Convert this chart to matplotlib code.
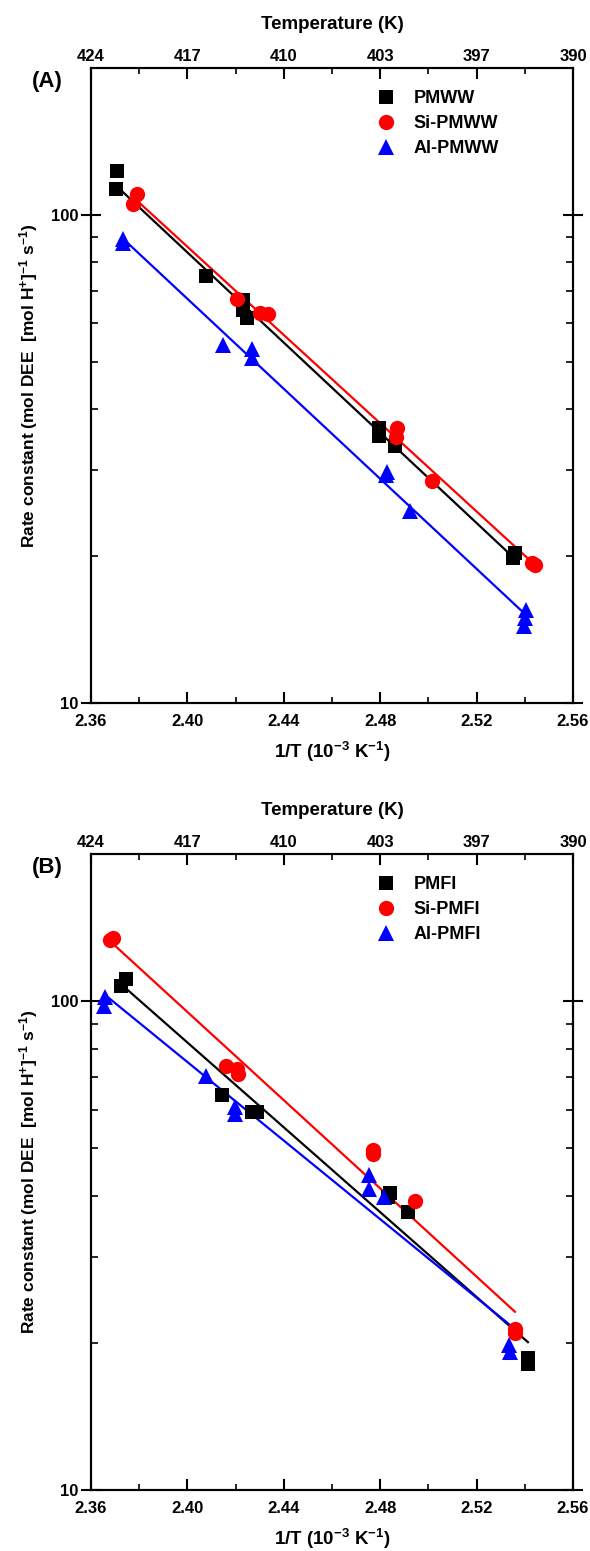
import numpy as np
import matplotlib
matplotlib.use("Agg")
import matplotlib.pyplot as plt
from matplotlib.ticker import FixedLocator, NullFormatter, LogLocator

plt.rcParams['font.family'] = ['Liberation Sans', 'DejaVu Sans']
plt.rcParams['font.weight'] = 'bold'
plt.rcParams['mathtext.fontset'] = 'custom'
plt.rcParams['mathtext.rm'] = 'Liberation Sans:bold'
plt.rcParams['mathtext.it'] = 'Liberation Sans:bold'
plt.rcParams['mathtext.bf'] = 'Liberation Sans:bold'
plt.rcParams['mathtext.default'] = 'rm'

# ---------------- data: panel A ----------------
pmww_x = [2.3707, 2.3704, 2.4077, 2.4231, 2.4229, 2.4246, 2.4795, 2.4795, 2.4861, 2.5359, 2.5351]
pmww_k = [123.3, 112.9, 75.1, 66.9, 63.9, 61.5, 36.6, 35.3, 33.6, 20.3, 19.8]
sipmww_x = [2.3790, 2.3776, 2.4205, 2.4301, 2.4336, 2.4868, 2.4866, 2.5016, 2.5442, 2.5429]
sipmww_k = [110.3, 105.2, 67.2, 62.9, 62.7, 36.6, 35.1, 28.5, 19.2, 19.4]
alpmww_x = [2.3734, 2.3732, 2.4149, 2.4269, 2.4267, 2.4829, 2.4824, 2.4924, 2.5405, 2.5400, 2.5397]
alpmww_k = [89.3, 87.5, 54.2, 53.1, 50.9, 29.8, 29.3, 24.7, 15.5, 14.9, 14.4]

# ---------------- data: panel B ----------------
pmfi_x = [2.3724, 2.3745, 2.4144, 2.4268, 2.4289, 2.4841, 2.4832, 2.4915, 2.5413, 2.5413]
pmfi_k = [107.3, 110.9, 64.2, 59.2, 59.2, 40.6, 39.7, 37.1, 18.6, 18.1]
sipmfi_x = [2.3679, 2.3690, 2.4160, 2.4206, 2.4210, 2.4770, 2.4770, 2.4944, 2.5359, 2.5359]
sipmfi_k = [133.5, 134.5, 73.6, 72.6, 70.9, 49.7, 48.6, 39.1, 21.3, 20.9]
alpmfi_x = [2.3658, 2.3654, 2.4077, 2.4198, 2.4198, 2.4754, 2.4754, 2.4816, 2.5334, 2.5339]
alpmfi_k = [101.9, 97.8, 70.2, 60.6, 58.7, 44.0, 41.2, 39.7, 19.8, 19.2]

# ---------------- ticks ----------------
invT_ticks = [2.36, 2.40, 2.44, 2.48, 2.52, 2.56]
invT_labels = ['2.36', '2.40', '2.44', '2.48', '2.52', '2.56']
temp_labels = ['424', '417', '410', '403', '397', '390']
k_ticks = [10, 100]
k_labels = ['10', '100']

panels = [
    ('(A)', [('PMWW', pmww_x, pmww_k, 's', 'black'),
             ('Si-PMWW', sipmww_x, sipmww_k, 'o', 'red'),
             ('Al-PMWW', alpmww_x, alpmww_k, '^', 'blue')]),
    ('(B)', [('PMFI', pmfi_x, pmfi_k, 's', 'black'),
             ('Si-PMFI', sipmfi_x, sipmfi_k, 'o', 'red'),
             ('Al-PMFI', alpmfi_x, alpmfi_k, '^', 'blue')]),
]

W, H = 590, 1551
fig = plt.figure(figsize=(W / 100, H / 100), dpi=100)

axes_px = [(91, 68, 573, 703), (91, 854, 573, 1490)]
msize = {'s': 10, 'o': 11, '^': 11}

for (label, series), (x0, y0, x1, y1) in zip(panels, axes_px):
    ax = fig.add_axes([x0 / W, 1 - y1 / H, (x1 - x0) / W, (y1 - y0) / H])
    handles = []
    for name, xs, ks, m, c in series:
        xs = np.array(xs); ks = np.array(ks)
        h, = ax.plot(xs, ks, linestyle='none', marker=m, color=c,
                     markersize=msize[m], markeredgewidth=0, label=name)
        handles.append(h)
        p = np.polyfit(xs, np.log10(ks), 1)
        xx = np.array([xs.min(), xs.max()])
        ax.plot(xx, 10 ** np.polyval(p, xx), color=c, lw=1.6, zorder=1)
    ax.set_yscale('log')
    ax.set_xlim(2.36, 2.56)
    ax.set_ylim(10, 200)
    ax.set_xticks(invT_ticks)
    ax.set_xticklabels(invT_labels)
    ax.xaxis.set_minor_locator(FixedLocator([2.38, 2.42, 2.46, 2.50, 2.54]))
    ax.set_yticks(k_ticks)
    ax.set_yticklabels(k_labels)
    ax.yaxis.set_minor_locator(LogLocator(base=10, subs=np.arange(2, 10)))
    ax.yaxis.set_minor_formatter(NullFormatter())
    for s in ax.spines.values():
        s.set_linewidth(1.5)
    ax.tick_params(axis='x', which='major', direction='in', length=8, width=1.5,
                   labelsize=12, pad=8, top=False)
    ax.tick_params(axis='x', which='minor', direction='in', length=4, width=1.2, top=False)
    ax.tick_params(axis='y', which='major', direction='inout', length=14, width=1.5,
                   labelsize=12, pad=2, right=True)
    ax.tick_params(axis='y', which='minor', direction='in', length=5, width=1.2, right=True)
    for t in ax.get_xticklabels() + ax.get_yticklabels():
        t.set_fontweight('bold')
    ax.set_xlabel('1/T (10$^{-3}$ K$^{-1}$)', fontsize=13.5, fontweight='bold', labelpad=8)
    ax.set_ylabel('Rate constant (mol DEE  [mol H$^{+}$]$^{-1}$ s$^{-1}$)',
                  fontsize=12.5, fontweight='bold', labelpad=8)

    top = ax.twiny()
    top.set_xlim(ax.get_xlim())
    top.set_xticks(invT_ticks)
    top.set_xticklabels(temp_labels)
    top.xaxis.set_minor_locator(FixedLocator([2.38, 2.42, 2.46, 2.50, 2.54]))
    top.tick_params(axis='x', which='major', direction='in', length=8, width=1.5,
                    labelsize=12, pad=3)
    top.tick_params(axis='x', which='minor', direction='in', length=4, width=1.2)
    for t in top.get_xticklabels():
        t.set_fontweight('bold')
    top.set_xlabel('Temperature (K)', fontsize=13.5, fontweight='bold', labelpad=14)
    for s in top.spines.values():
        s.set_linewidth(1.5)

    leg = ax.legend(handles=handles, loc='upper left', bbox_to_anchor=(0.575, 0.977),
                    frameon=False, handlelength=1.2, handletextpad=0.9,
                    labelspacing=0.45, borderaxespad=0,
                    prop={'weight': 'bold', 'size': 13})
    fig.text(47 / W, 1 - (y0 + 14) / H, label, fontsize=16, fontweight='bold',
             ha='center', va='center')

fig.savefig('out.png', dpi=100)
